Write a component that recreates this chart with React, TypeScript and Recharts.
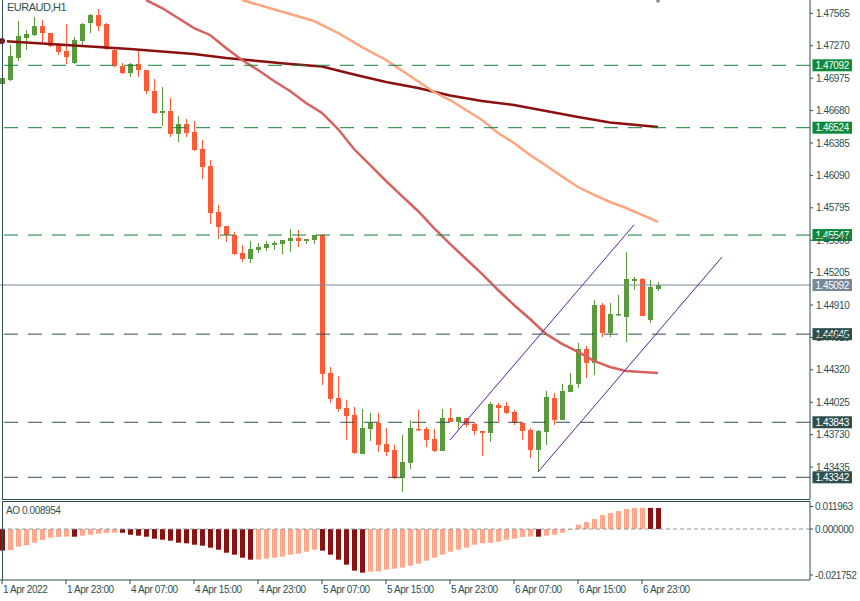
import React from "react";
import { ComposedChart, Bar, Line, XAxis, YAxis, ReferenceLine, ReferenceDot } from "recharts";

const FONT = "'Liberation Sans', Arial, sans-serif";
const AXIS = "#2f4f4f";
const BULL = "#5a9a3c";
const BEAR = "#ff5a36";
const GREEN_LINE = "#1a7d3a";
const GREEN_TAG = "#0b8a3c";
const GRAY = "#778899";
const AO_UP = "#ffa98a";
const AO_DOWN = "#8b1010";

// EURAUD H1 candles, index 0 = 1 Apr 2022 15:00
const OPEN = [
  1.46922, 1.46958, 1.47158, 1.4734, 1.47368, 1.47449, 1.47386, 1.47277, 1.47222, 1.47113,
  1.47313, 1.47477, 1.4755, 1.47468, 1.47231, 1.47085, 1.47022, 1.47104, 1.47049, 1.46858,
  1.46658, 1.46676, 1.46467, 1.46558, 1.46485, 1.4633, 1.46175, 1.45757, 1.45629, 1.45548,
  1.45384, 1.45329, 1.45411, 1.45429, 1.45457, 1.45466, 1.45493, 1.4552, 1.45493, 1.45502,
  1.45548, 1.44292, 1.44064, 1.43973, 1.4391, 1.43555, 1.43782, 1.43837, 1.43646, 1.43591,
  1.43335, 1.43473, 1.43782, 1.43782, 1.43691, 1.43582, 1.43882, 1.43846, 1.43882, 1.43828,
  1.43764, 1.43746, 1.44, 1.43991, 1.43937, 1.43837, 1.43773, 1.43591, 1.43755, 1.44064,
  1.43864, 1.44119, 1.44192, 1.4451, 1.44383, 1.4491, 1.44656, 1.44819, 1.44801, 1.45129,
  1.45147, 1.44774, 1.45056,
];
const HIGH = [
  1.46994, 1.47277, 1.47495, 1.47413, 1.47531, 1.47504, 1.47386, 1.47295, 1.47468, 1.47349,
  1.47477, 1.47559, 1.47604, 1.47477, 1.47258, 1.47113, 1.47113, 1.4724, 1.47049, 1.46967,
  1.46894, 1.46794, 1.4663, 1.46603, 1.46585, 1.46412, 1.4623, 1.45821, 1.45629, 1.45575,
  1.45457, 1.45493, 1.45475, 1.45493, 1.45493, 1.45502, 1.45602, 1.45593, 1.45511, 1.45548,
  1.45557, 1.44346, 1.44264, 1.44046, 1.43982, 1.43964, 1.43928, 1.43928, 1.43791, 1.43637,
  1.43728, 1.43864, 1.43955, 1.438, 1.43782, 1.43964, 1.43973, 1.43891, 1.43882, 1.43846,
  1.43764, 1.44028, 1.44019, 1.44028, 1.43955, 1.43846, 1.43791, 1.43773, 1.44128, 1.4411,
  1.44192, 1.44292, 1.44565, 1.44537, 1.44956, 1.44929, 1.44929, 1.45002, 1.45393, 1.45165,
  1.45156, 1.45138, 1.4512,
];
const LOW = [
  1.46903, 1.46949, 1.47131, 1.47231, 1.47358, 1.47295, 1.47258, 1.47186, 1.47104, 1.47104,
  1.47267, 1.47386, 1.47404, 1.47231, 1.47076, 1.47013, 1.46985, 1.46985, 1.46831, 1.46649,
  1.46539, 1.46439, 1.46394, 1.46439, 1.46312, 1.46057, 1.45648, 1.45511, 1.45484, 1.45366,
  1.45302, 1.45293, 1.45384, 1.45402, 1.45411, 1.45375, 1.45393, 1.45438, 1.45466, 1.45466,
  1.44183, 1.44019, 1.43937, 1.43682, 1.43555, 1.43555, 1.43673, 1.43573, 1.43536, 1.43327,
  1.43209, 1.43418, 1.43764, 1.43618, 1.43573, 1.43582, 1.43846, 1.43782, 1.438, 1.43728,
  1.43536, 1.43664, 1.43837, 1.43919, 1.43819, 1.43682, 1.43518, 1.43391, 1.43637, 1.43819,
  1.43864, 1.44119, 1.44155, 1.44246, 1.44274, 1.44619, 1.44619, 1.4481, 1.44574, 1.45047,
  1.4481, 1.44747, 1.45038,
];
const CLOSE = [
  1.46976, 1.47176, 1.47358, 1.47377, 1.47449, 1.47386, 1.47267, 1.47213, 1.47167, 1.47322,
  1.47468, 1.4755, 1.47449, 1.4724, 1.47085, 1.47022, 1.47104, 1.47049, 1.46858, 1.46658,
  1.46676, 1.46467, 1.46558, 1.46476, 1.46321, 1.46166, 1.45748, 1.4562, 1.45548, 1.45375,
  1.45329, 1.4542, 1.45438, 1.45466, 1.45475, 1.45502, 1.4552, 1.45493, 1.45511, 1.45548,
  1.44283, 1.44055, 1.43964, 1.439, 1.43564, 1.43791, 1.43837, 1.43637, 1.43573, 1.43335,
  1.43482, 1.43791, 1.43773, 1.43682, 1.43582, 1.43882, 1.43846, 1.43891, 1.43819, 1.43764,
  1.43746, 1.4401, 1.43973, 1.43928, 1.43837, 1.43764, 1.43591, 1.43764, 1.44073, 1.43864,
  1.44128, 1.44183, 1.4451, 1.44383, 1.4491, 1.44656, 1.44829, 1.44829, 1.45147, 1.45147,
  1.4481, 1.45074, 1.45092,
];

// moving averages read at [candle index, price]
const MA_SLOW = [
  [0, 1.47313], [4, 1.47295], [8, 1.47277], [12, 1.47258], [16, 1.4724], [20, 1.47217],
  [24, 1.47195], [28, 1.47158], [32, 1.47131], [36, 1.47104], [40, 1.47081], [44, 1.47008],
  [48, 1.4694], [52, 1.46885], [56, 1.46817], [60, 1.46767], [64, 1.46731], [68, 1.46676],
  [72, 1.46621], [76, 1.46571], [80, 1.46544], [82, 1.4653],
];
const MA_MID = [
  [30, 1.47686], [33, 1.47622], [36, 1.47559], [39, 1.47495], [42, 1.47386], [45, 1.47258],
  [48, 1.4714], [51, 1.46994], [54, 1.46849], [56, 1.46776], [58, 1.46685], [60, 1.46594],
  [62, 1.46476], [64, 1.46385], [66, 1.46276], [68, 1.4618], [70, 1.4608], [72, 1.45984],
  [74, 1.45912], [76, 1.45848], [78, 1.45793], [80, 1.4573], [82, 1.45666],
];
const MA_FAST = [
  [18, 1.47686], [20, 1.47613], [22, 1.47522], [24, 1.47431], [26, 1.47368], [28, 1.47249],
  [30, 1.4714], [32, 1.47049], [34, 1.46949], [36, 1.46858], [38, 1.46749], [40, 1.46658],
  [42, 1.46512], [44, 1.4633], [46, 1.46185], [48, 1.46039], [50, 1.45902], [52, 1.45766],
  [54, 1.45611], [56, 1.45466], [58, 1.45329], [60, 1.45193], [62, 1.45047], [64, 1.4491],
  [66, 1.44783], [68, 1.44647], [70, 1.44556], [72, 1.44483], [74, 1.44401], [76, 1.44346],
  [78, 1.4431], [80, 1.44301], [82, 1.44292],
];
const CHANNEL_UP = [[56, 1.43682], [79, 1.4564]];
const CHANNEL_DN = [[67, 1.43391], [90, 1.45347]];

const AO = [
  -0.0092, -0.00895, -0.00754, -0.00694, -0.00584, -0.00469, -0.00371, -0.00335, -0.0032, -0.00328,
  -0.00285, -0.00243, -0.002, -0.00165, -0.00155, -0.0016, -0.00243, -0.00285, -0.00328, -0.00413,
  -0.00456, -0.00498, -0.00584, -0.00609, -0.00669, -0.00711, -0.00797, -0.00882, -0.0101, -0.01095,
  -0.01223, -0.01308, -0.013, -0.01265, -0.01223, -0.0118, -0.01095, -0.01052, -0.00967, -0.00882,
  -0.00924, -0.01095, -0.01308, -0.01521, -0.01776, -0.01862, -0.01819, -0.0181, -0.01734, -0.01691,
  -0.01649, -0.01563, -0.01478, -0.0135, -0.01223, -0.01095, -0.00967, -0.00882, -0.00797, -0.00669,
  -0.00609, -0.00584, -0.00541, -0.00456, -0.00413, -0.00335, -0.0032, -0.00328, -0.00285, -0.00243,
  -0.00158, -0.0004, 0.00183, 0.00298, 0.00426, 0.00596, 0.00682, 0.00767, 0.00852, 0.009,
  0.0091, 0.00903, 0.008954,
];

const PRICE_TICKS = [
  1.47565, 1.4727, 1.46975, 1.4668, 1.46385, 1.4609, 1.45795, 1.455, 1.45205, 1.4491,
  1.44615, 1.4432, 1.44025, 1.4373, 1.43435,
];
const GREEN_LEVELS = [1.47092, 1.46524, 1.45547];
const SLATE_LEVELS = [1.44645, 1.43843, 1.43342];
const LAST_PRICE = 1.45092;
const AO_TICKS = [0.011963, 0, -0.021752];
const TIME_IDX = [0, 8, 16, 24, 32, 40, 48, 56, 64, 72, 80];
const TIME_LABELS = [
  "1 Apr 2022", "1 Apr 23:00", "4 Apr 07:00", "4 Apr 15:00", "4 Apr 23:00", "5 Apr 07:00",
  "5 Apr 15:00", "5 Apr 23:00", "6 Apr 07:00", "6 Apr 15:00", "6 Apr 23:00",
];

const SLOTS = 101;
const PRICE_DOMAIN: [number, number] = [1.431446, 1.476863];
const AO_DOMAIN: [number, number] = [-0.021752, 0.011963];

const pick = (pts: number[][], i: number) => {
  const p = pts.find((q) => q[0] === i);
  return p ? p[1] : null;
};

const rows = Array.from({ length: SLOTS }, (_, i) => {
  const has = i < OPEN.length;
  return {
    t: i,
    o: has ? OPEN[i] : null,
    h: has ? HIGH[i] : null,
    l: has ? LOW[i] : null,
    c: has ? CLOSE[i] : null,
    range: has ? [LOW[i], HIGH[i]] : null,
    slow: pick(MA_SLOW, i),
    mid: pick(MA_MID, i),
    fast: pick(MA_FAST, i),
    chUp: pick(CHANNEL_UP, i),
    chDn: pick(CHANNEL_DN, i),
    ao: i < AO.length ? AO[i] : null,
  };
});

const txt = { fontFamily: FONT, fontSize: 10, letterSpacing: -0.4 };

const Candle = (p: any) => {
  const d = p.payload;
  if (!d || d.o == null) return <g />;
  const top = Math.min(p.y, p.y + p.height);
  const h = Math.abs(p.height);
  const k = d.h > d.l ? h / (d.h - d.l) : 0;
  const bt = top + (d.h - Math.max(d.o, d.c)) * k;
  const bb = top + (d.h - Math.min(d.o, d.c)) * k;
  const col = d.c >= d.o ? BULL : BEAR;
  const bx = Math.round(p.x);
  return (
    <g>
      <line x1={bx + 2.5} x2={bx + 2.5} y1={top} y2={top + Math.max(h, 1)} stroke={col} strokeWidth={1} />
      <rect x={bx} y={bt} width={5} height={Math.max(1.5, bb - bt)} fill={col} />
    </g>
  );
};

const AoBar = (p: any) => {
  const v = p.payload?.ao;
  if (v == null) return <g />;
  const i = p.index;
  const fill = i > 0 && AO[i] > AO[i - 1] ? AO_UP : AO_DOWN;
  const y = Math.min(p.y, p.y + p.height);
  return <rect x={Math.round(p.x)} y={y} width={5} height={Math.max(1, Math.abs(p.height))} fill={fill} />;
};

const PriceTick = ({ x, y, payload }: any) => (
  <g>
    <line x1={x} x2={x + 3} y1={y} y2={y} stroke={AXIS} />
    <text x={x + 6} y={y} dy={3.6} fill={AXIS} style={txt}>{payload.value.toFixed(5)}</text>
  </g>
);

const AoTick = ({ x, y, payload }: any) => {
  const v = payload.value;
  const dy = v > 0 ? 5.5 : v < 0 ? -5 : 0;
  return (
    <g>
      <line x1={x} x2={x + 3} y1={y + dy} y2={y + dy} stroke={AXIS} />
      <text x={x + 5} y={y + dy} dy={3.6} fill={AXIS} style={txt}>{v.toFixed(6)}</text>
    </g>
  );
};

const TimeTick = ({ x, y, payload }: any) => {
  const k = TIME_IDX.indexOf(payload.value);
  return (
    <g>
      <line x1={x} x2={x} y1={y} y2={y + 4} stroke={AXIS} />
      <text x={Math.max(x + 1, 3)} y={y + 13} fill={AXIS} style={txt}>{TIME_LABELS[k]}</text>
    </g>
  );
};

const tag = (text: string, bg: string) => (props: any) => {
  const vb = props.viewBox || {};
  const x = vb.x + vb.width;
  const y = vb.y;
  return (
    <g>
      <rect x={x + 2.5} y={y - 6} width={39.5} height={12} fill={bg} />
      <text x={x + 5.5} y={y} dy={3.6} fill="#ffffff" style={txt}>{text}</text>
    </g>
  );
};

export default function App() {
  return (
    <div style={{ position: "absolute", left: 0, top: 0, width: 860, height: 601, background: "#fff", overflow: "hidden" }}>
      <div style={{ position: "absolute", left: 0, top: 0 }}>
        <ComposedChart width={860} height={500} data={rows} margin={{ top: 0, right: 0, bottom: 1, left: -2 }}>
          <XAxis dataKey="t" hide padding={{ left: 0, right: 4 }} />
          <YAxis
            orientation="right"
            width={50}
            domain={PRICE_DOMAIN}
            allowDataOverflow
            ticks={PRICE_TICKS}
            interval={0}
            tickLine={false}
            tickSize={0}
            tickMargin={0}
            axisLine={{ stroke: AXIS }}
            tick={<PriceTick />}
          />
          <Line dataKey="slow" stroke="#8b1010" strokeWidth={2.5} dot={false} connectNulls isAnimationActive={false} />
          <Line dataKey="mid" stroke="#ffa57e" strokeWidth={2.5} dot={false} connectNulls isAnimationActive={false} />
          <Line dataKey="fast" stroke="#d5625e" strokeWidth={2.5} dot={false} connectNulls isAnimationActive={false} />
          {GREEN_LEVELS.map((v) => (
            <ReferenceLine key={v} y={v} stroke={GREEN_LINE} strokeDasharray="14 10" label={tag(v.toFixed(5), GREEN_TAG)} />
          ))}
          {SLATE_LEVELS.map((v) => (
            <ReferenceLine key={v} y={v} stroke={AXIS} strokeDasharray="14 10" label={tag(v.toFixed(5), AXIS)} />
          ))}
          <ReferenceLine y={LAST_PRICE} stroke={GRAY} label={tag(LAST_PRICE.toFixed(5), GRAY)} />
          <Bar dataKey="range" barSize={5} shape={<Candle />} isAnimationActive={false} />
          <Line dataKey="chUp" stroke="#5a1e9e" strokeWidth={1} dot={false} connectNulls isAnimationActive={false} />
          <Line dataKey="chDn" stroke="#5a1e9e" strokeWidth={1} dot={false} connectNulls isAnimationActive={false} />
          <ReferenceDot x={82} y={1.4768} r={2} fill="#8a96a3" stroke="none" />
        </ComposedChart>
      </div>
      <div style={{ position: "absolute", left: 0, top: 501 }}>
        <ComposedChart width={860} height={100} data={rows} margin={{ top: 0, right: 0, bottom: 0, left: -2 }}>
          <XAxis
            dataKey="t"
            height={21}
            padding={{ left: 0, right: 4 }}
            ticks={TIME_IDX}
            interval={0}
            tickLine={false}
            tickSize={0}
            tickMargin={0}
            axisLine={{ stroke: AXIS }}
            tick={<TimeTick />}
          />
          <YAxis
            orientation="right"
            width={50}
            domain={AO_DOMAIN}
            allowDataOverflow
            ticks={AO_TICKS}
            interval={0}
            tickLine={false}
            tickSize={0}
            tickMargin={0}
            axisLine={{ stroke: AXIS }}
            tick={<AoTick />}
          />
          <ReferenceLine y={0} stroke="#8a96a3" strokeDasharray="4 3" />
          <Bar dataKey="ao" barSize={5} shape={<AoBar />} isAnimationActive={false} />
        </ComposedChart>
      </div>
      <svg width={860} height={601} style={{ position: "absolute", left: 0, top: 0, pointerEvents: "none" }}>
        <line x1={2.5} x2={2.5} y1={0} y2={499.5} stroke={AXIS} />
        <line x1={2} x2={810} y1={499.5} y2={499.5} stroke={AXIS} />
        <line x1={2} x2={810} y1={501.5} y2={501.5} stroke={AXIS} />
        <line x1={2.5} x2={2.5} y1={501} y2={580} stroke={AXIS} />
      </svg>
      <div style={{ position: "absolute", left: 7, top: 1, fontFamily: FONT, fontSize: 11, letterSpacing: -0.5, color: AXIS, lineHeight: "13px", whiteSpace: "nowrap" }}>
        EURAUD,H1
      </div>
      <div style={{ position: "absolute", left: 6, top: 504, fontFamily: FONT, fontSize: 10, letterSpacing: -0.4, color: AXIS, lineHeight: "13px", whiteSpace: "nowrap" }}>
        AO 0.008954
      </div>
    </div>
  );
}
